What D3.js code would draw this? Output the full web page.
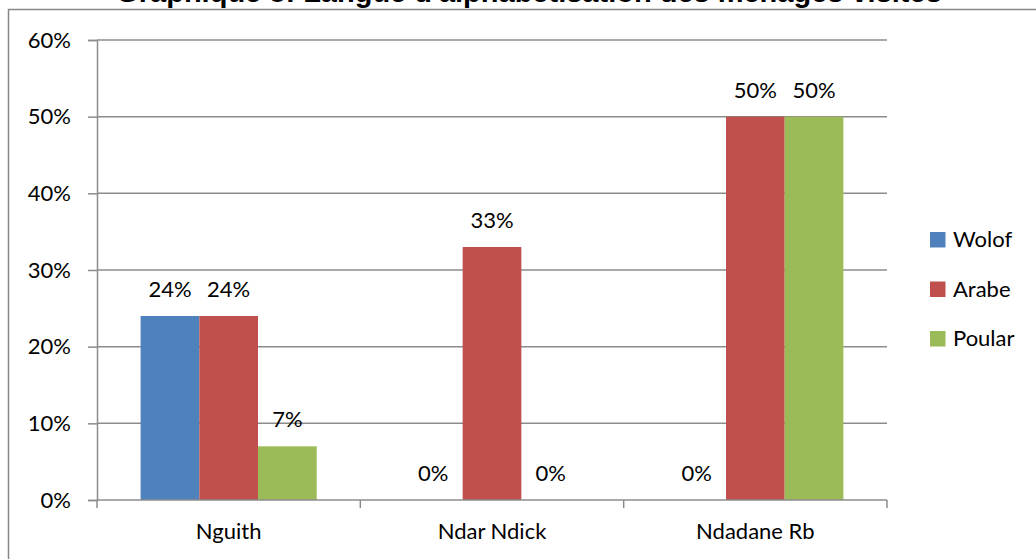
<!DOCTYPE html>
<html>
<head>
<meta charset="utf-8">
<script src="https://cdn.jsdelivr.net/npm/d3@7"></script>
<style>
  html, body { margin: 0; padding: 0; background: #fff; }
  svg { display: block; }
</style>
</head>
<body>
<script>
const categories = ["Nguith", "Ndar Ndick", "Ndadane Rb"];
const seriesNames = ["Wolof", "Arabe", "Poular"];
const wolof = [0.24, 0, 0];
const arabe = [0.24, 0.33, 0.50];
const poular = [0.07, 0, 0.50];
const yTicks = [0, 0.1, 0.2, 0.3, 0.4, 0.5, 0.6];
const colors = ["#4F81BD", "#C0504D", "#9BBB59"];
const title = "Graphique 8: Langue d'alphabétisation des ménages visités";

const W = 1036, H = 559;
const svg = d3.select("body").append("svg").attr("width", W).attr("height", H);
const font = "Lato, 'Open Sans', sans-serif";

// chart frame
svg.append("rect").attr("x", 8.5).attr("y", 9.5).attr("width", W + 20).attr("height", H + 20)
  .attr("fill", "none").attr("stroke", "#868686").attr("stroke-width", 1.5);

// title (partially cut at top)
svg.append("text").attr("x", 529).attr("y", 2).attr("text-anchor", "middle")
  .attr("font-family", "'Liberation Sans', Arial, sans-serif").attr("font-weight", "bold")
  .attr("font-size", 29).attr("fill", "#000").text(title);

const x0 = d3.scaleBand().domain(categories).range([97, 887]).paddingInner(0).paddingOuter(0);
const x1 = d3.scaleBand().domain(seriesNames).range([0, x0.bandwidth()]).paddingInner(0).paddingOuter(0.743);
const y = d3.scaleLinear().domain([0, 0.6]).range([500, 40]);

// gridlines
svg.append("g").selectAll("line").data(yTicks.slice(1)).join("line")
  .attr("x1", 97).attr("x2", 887).attr("y1", d => y(d)).attr("y2", d => y(d))
  .attr("stroke", "#8C8C8C").attr("stroke-width", 1.5);

const data = categories.map((c, i) => ({
  cat: c,
  vals: [
    { s: "Wolof", v: wolof[i], c: colors[0] },
    { s: "Arabe", v: arabe[i], c: colors[1] },
    { s: "Poular", v: poular[i], c: colors[2] }
  ]
}));

const groups = svg.append("g").selectAll("g").data(data).join("g")
  .attr("transform", d => `translate(${x0(d.cat)},0)`);

groups.selectAll("rect").data(d => d.vals).join("rect")
  .attr("x", d => x1(d.s)).attr("width", x1.bandwidth())
  .attr("y", d => y(d.v)).attr("height", d => y(0) - y(d.v))
  .attr("fill", d => d.c);

groups.selectAll("text").data(d => d.vals).join("text")
  .attr("x", d => x1(d.s) + x1.bandwidth() / 2)
  .attr("y", d => y(d.v) - 19)
  .attr("text-anchor", "middle").attr("font-family", font).attr("font-size", 22).attr("fill", "#000")
  .text(d => Math.round(d.v * 100) + "%");

// y axis
const yAxis = svg.append("g").attr("transform", "translate(97,0)")
  .call(d3.axisLeft(y).tickValues(yTicks).tickSize(9).tickPadding(17).tickFormat(d => Math.round(d * 100) + "%"));
yAxis.select(".domain").attr("stroke", "#8C8C8C").attr("stroke-width", 1.5);
yAxis.selectAll(".tick line").attr("stroke", "#8C8C8C").attr("stroke-width", 1.5);
yAxis.selectAll(".tick text").attr("font-family", font).attr("font-size", 22).attr("fill", "#000");

// x axis
const xAxis = svg.append("g").attr("transform", "translate(0,500)");
xAxis.append("line").attr("x1", 97).attr("x2", 887).attr("y1", 0).attr("y2", 0)
  .attr("stroke", "#8C8C8C").attr("stroke-width", 1.5);
const bounds = categories.map(c => x0(c)).concat([x0(categories[categories.length - 1]) + x0.bandwidth()]);
xAxis.selectAll("line.t").data(bounds).join("line").attr("class", "t")
  .attr("x1", d => d).attr("x2", d => d).attr("y1", 0).attr("y2", 8)
  .attr("stroke", "#8C8C8C").attr("stroke-width", 1.5);
xAxis.selectAll("text").data(categories).join("text")
  .attr("x", d => x0(d) + x0.bandwidth() / 2).attr("y", 39)
  .attr("text-anchor", "middle").attr("font-family", font).attr("font-size", 22).attr("fill", "#000")
  .text(d => d);

// legend
const legend = svg.append("g").selectAll("g").data(seriesNames).join("g")
  .attr("transform", (d, i) => `translate(930,${232 + i * 49.5})`);
legend.append("rect").attr("width", 15.5).attr("height", 15.5).attr("fill", (d, i) => colors[i]);
legend.append("text").attr("x", 23).attr("y", 15).attr("font-family", font).attr("font-size", 22)
  .attr("fill", "#000").text(d => d);
</script>
</body>
</html>
